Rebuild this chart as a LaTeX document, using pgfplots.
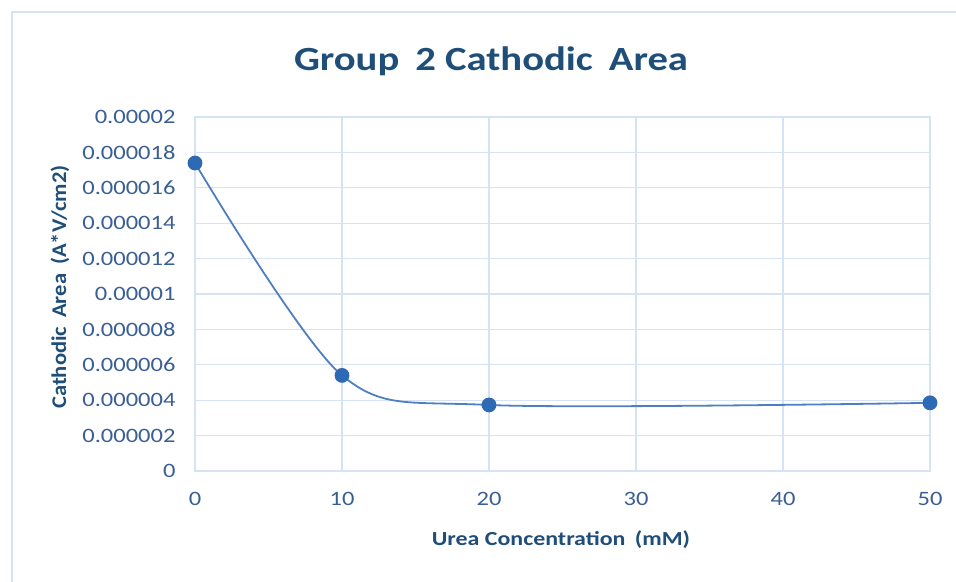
\documentclass[border=0pt]{standalone}
\usepackage{fontspec}
\setmainfont{Carlito}
\usepackage{graphicx}
\usepackage{pgfplots}
\pgfplotsset{compat=1.18}
\definecolor{titleblue}{HTML}{1F4E79}
\definecolor{tickblue}{HTML}{3A5F95}
\definecolor{gridblue}{HTML}{D6E3F4}
\definecolor{lineblue}{HTML}{4F7FC0}
\definecolor{markblue}{HTML}{2E6AB4}
\newcommand{\sx}[1]{\scalebox{1.2}[1]{#1}}
\begin{document}
\begin{tikzpicture}[x=1bp,y=1bp]
\path[use as bounding box] (0,0) rectangle (956,582);
\draw[gridblue, line width=2bp] (12,0) -- (12,570) -- (956,570);
\begin{axis}[
  at={(195bp,111bp)}, anchor=south west,
  width=735bp, height=354bp, scale only axis,
  xmin=0, xmax=50, ymin=0, ymax=0.00002,
  scaled y ticks=false, scaled x ticks=false,
  xtick={0,10,20,30,40,50},
  xticklabels={\sx{0},\sx{10},\sx{20},\sx{30},\sx{40},\sx{50}},
  ytick={0,0.000002,0.000004,0.000006,0.000008,0.00001,0.000012,0.000014,0.000016,0.000018,0.00002},
  yticklabels={\sx{0},\sx{0.000002},\sx{0.000004},\sx{0.000006},\sx{0.000008},\sx{0.00001},\sx{0.000012},\sx{0.000014},\sx{0.000016},\sx{0.000018},\sx{0.00002}},
  grid=major,
  major grid style={gridblue, line width=1.3bp},
  axis line style={gridblue, line width=1.5bp},
  major tick length=0pt,
  tick label style={font=\fontsize{20.5}{24}\selectfont, text=tickblue},
  xticklabel style={yshift=-18bp},
  yticklabel style={xshift=-16bp},
  clip=false,
]
\addplot[color=lineblue, line width=1.8bp, smooth, mark=*, mark size=6.5bp,
  mark options={fill=markblue, draw=markblue}]
  coordinates {(0,0.0000174) (10,0.0000054) (20,0.00000373) (50,0.00000385)};
\end{axis}
\node[text=titleblue, font=\fontsize{34}{40}\selectfont\bfseries] at (491,521) {\sx{Group\, 2 Cathodic\, Area}};
\node[text=titleblue, font=\fontsize{20}{24}\selectfont\bfseries] at (561,42) {\sx{Urea Concentration\, (mM)}};
\node[text=titleblue, font=\fontsize{21}{24}\selectfont\bfseries, rotate=90] at (60,295) {\scalebox{1.08}[1]{Cathodic\, Area\, (A*V/cm2)}};
\end{tikzpicture}
\end{document}
